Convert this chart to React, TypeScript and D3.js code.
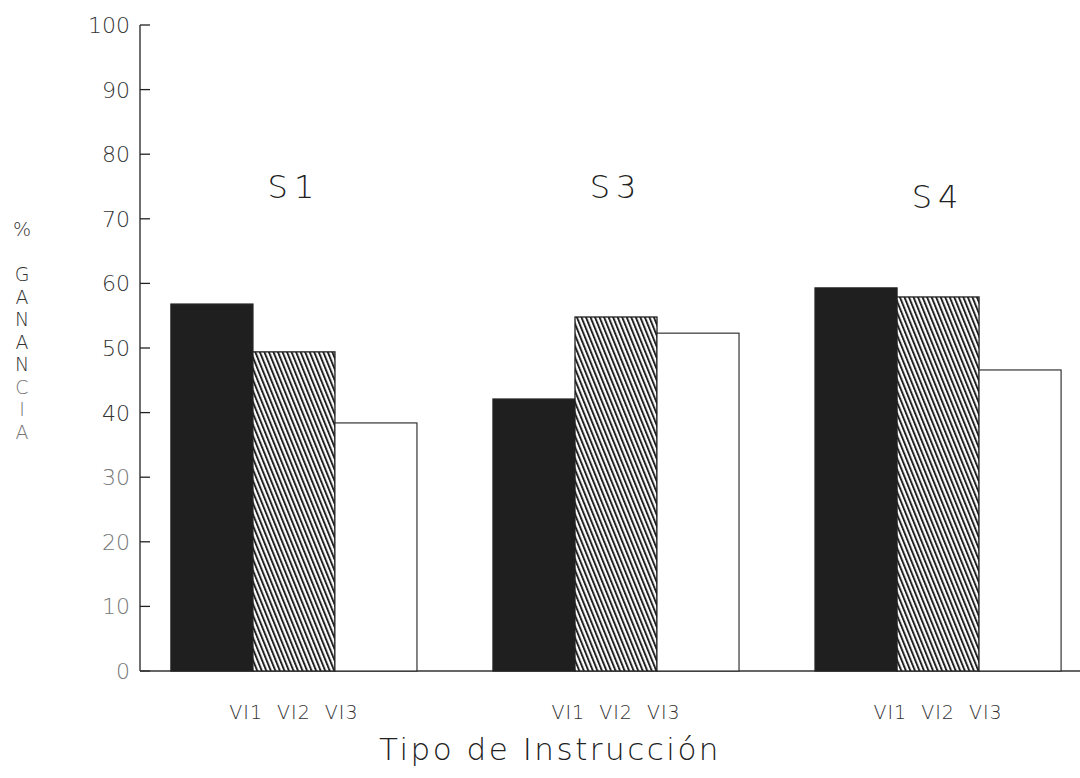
import React from "react";
import * as d3 from "d3";

const groups = ["S1", "S3", "S4"];
const series = ["VI1", "VI2", "VI3"];
const values: number[][] = [
  [56.8, 49.4, 38.4],
  [42.1, 54.8, 52.3],
  [59.3, 57.9, 46.6],
];
const yTicks = [0, 10, 20, 30, 40, 50, 60, 70, 80, 90, 100];
const yLabelLetters = ["%", "", "G", "A", "N", "A", "N", "C", "I", "A"];
const xTitle = "Tipo de Instrucción";

const W = 1080;
const H = 778;
const FONT = "'DejaVu Sans', 'Liberation Sans', sans-serif";

export default function App() {
  const y = d3.scaleLinear().domain([0, 100]).range([671, 25]);
  const x0 = d3
    .scaleBand<string>()
    .domain(groups)
    .range([140, 1092])
    .paddingInner(0.236)
    .paddingOuter(0.096);
  const x1 = d3.scaleBand<string>().domain(series).range([0, x0.bandwidth()]).padding(0);
  const axisX = 140;

  const fills = ["#1f1f1f", "url(#hatch)", "#ffffff"];

  return (
    <svg
      width={W}
      height={H}
      style={{ position: "absolute", left: 0, top: 0, background: "#fff" }}
      fontFamily={FONT}
      fontWeight={200}
    >
      <defs>
        <pattern
          id="hatch"
          patternUnits="userSpaceOnUse"
          width={4.2}
          height={10}
          patternTransform="rotate(-22)"
        >
          <rect width={4.2} height={10} fill="#fff" />
          <line x1={1} y1={-1} x2={1} y2={11} stroke="#1a1a1a" strokeWidth={1.9} />
        </pattern>
      </defs>

      {/* y axis */}
      <line x1={axisX} x2={axisX} y1={y(0)} y2={y(100)} stroke="#222" strokeWidth={1.3} />
      {yTicks.map((t) => (
        <g key={t}>
          <line x1={axisX} x2={axisX + 10} y1={y(t)} y2={y(t)} stroke="#222" strokeWidth={1.3} />
          <text
            x={axisX - 10}
            y={y(t)}
            dy="0.36em"
            textAnchor="end"
            fontSize={22}
            fill={t <= 30 ? "#777" : "#333"}
          >
            {t}
          </text>
        </g>
      ))}

      {/* baseline */}
      <line x1={axisX} x2={W} y1={y(0)} y2={y(0)} stroke="#333" strokeWidth={1.3} />

      {/* bars */}
      {groups.map((g, gi) => (
        <g key={g} transform={`translate(${x0(g)},0)`}>
          {series.map((s, si) => (
            <rect
              key={s}
              x={x1(s)}
              y={y(values[gi][si])}
              width={x1.bandwidth()}
              height={y(0) - y(values[gi][si])}
              fill={fills[si]}
              stroke="#222"
              strokeWidth={si === 2 ? 1.1 : 1.3}
            />
          ))}
          <text
            x={x0.bandwidth() / 2}
            y={gi === 2 ? 208 : 198}
            textAnchor="middle"
            fontSize={32}
            fill="#222"
            letterSpacing={6}
          >
            {g}
          </text>
          <text
            x={x0.bandwidth() / 2}
            y={y(0) + 48}
            textAnchor="middle"
            fontSize={19}
            fill="#333"
            letterSpacing={1}
            xmlSpace="preserve"
          >
            {series.join("  ")}
          </text>
        </g>
      ))}

      {/* x title */}
      <text x={550} y={760} textAnchor="middle" fontSize={31} fill="#222" letterSpacing={2.5}>
        {xTitle}
      </text>

      {/* y label as stacked letters */}
      {yLabelLetters.map((c, i) =>
        c ? (
          <text
            key={i}
            x={22}
            y={236 + i * 22.5}
            textAnchor="middle"
            fontSize={19}
            fill={i >= 7 ? "#777" : "#333"}
          >
            {c}
          </text>
        ) : null
      )}
    </svg>
  );
}
